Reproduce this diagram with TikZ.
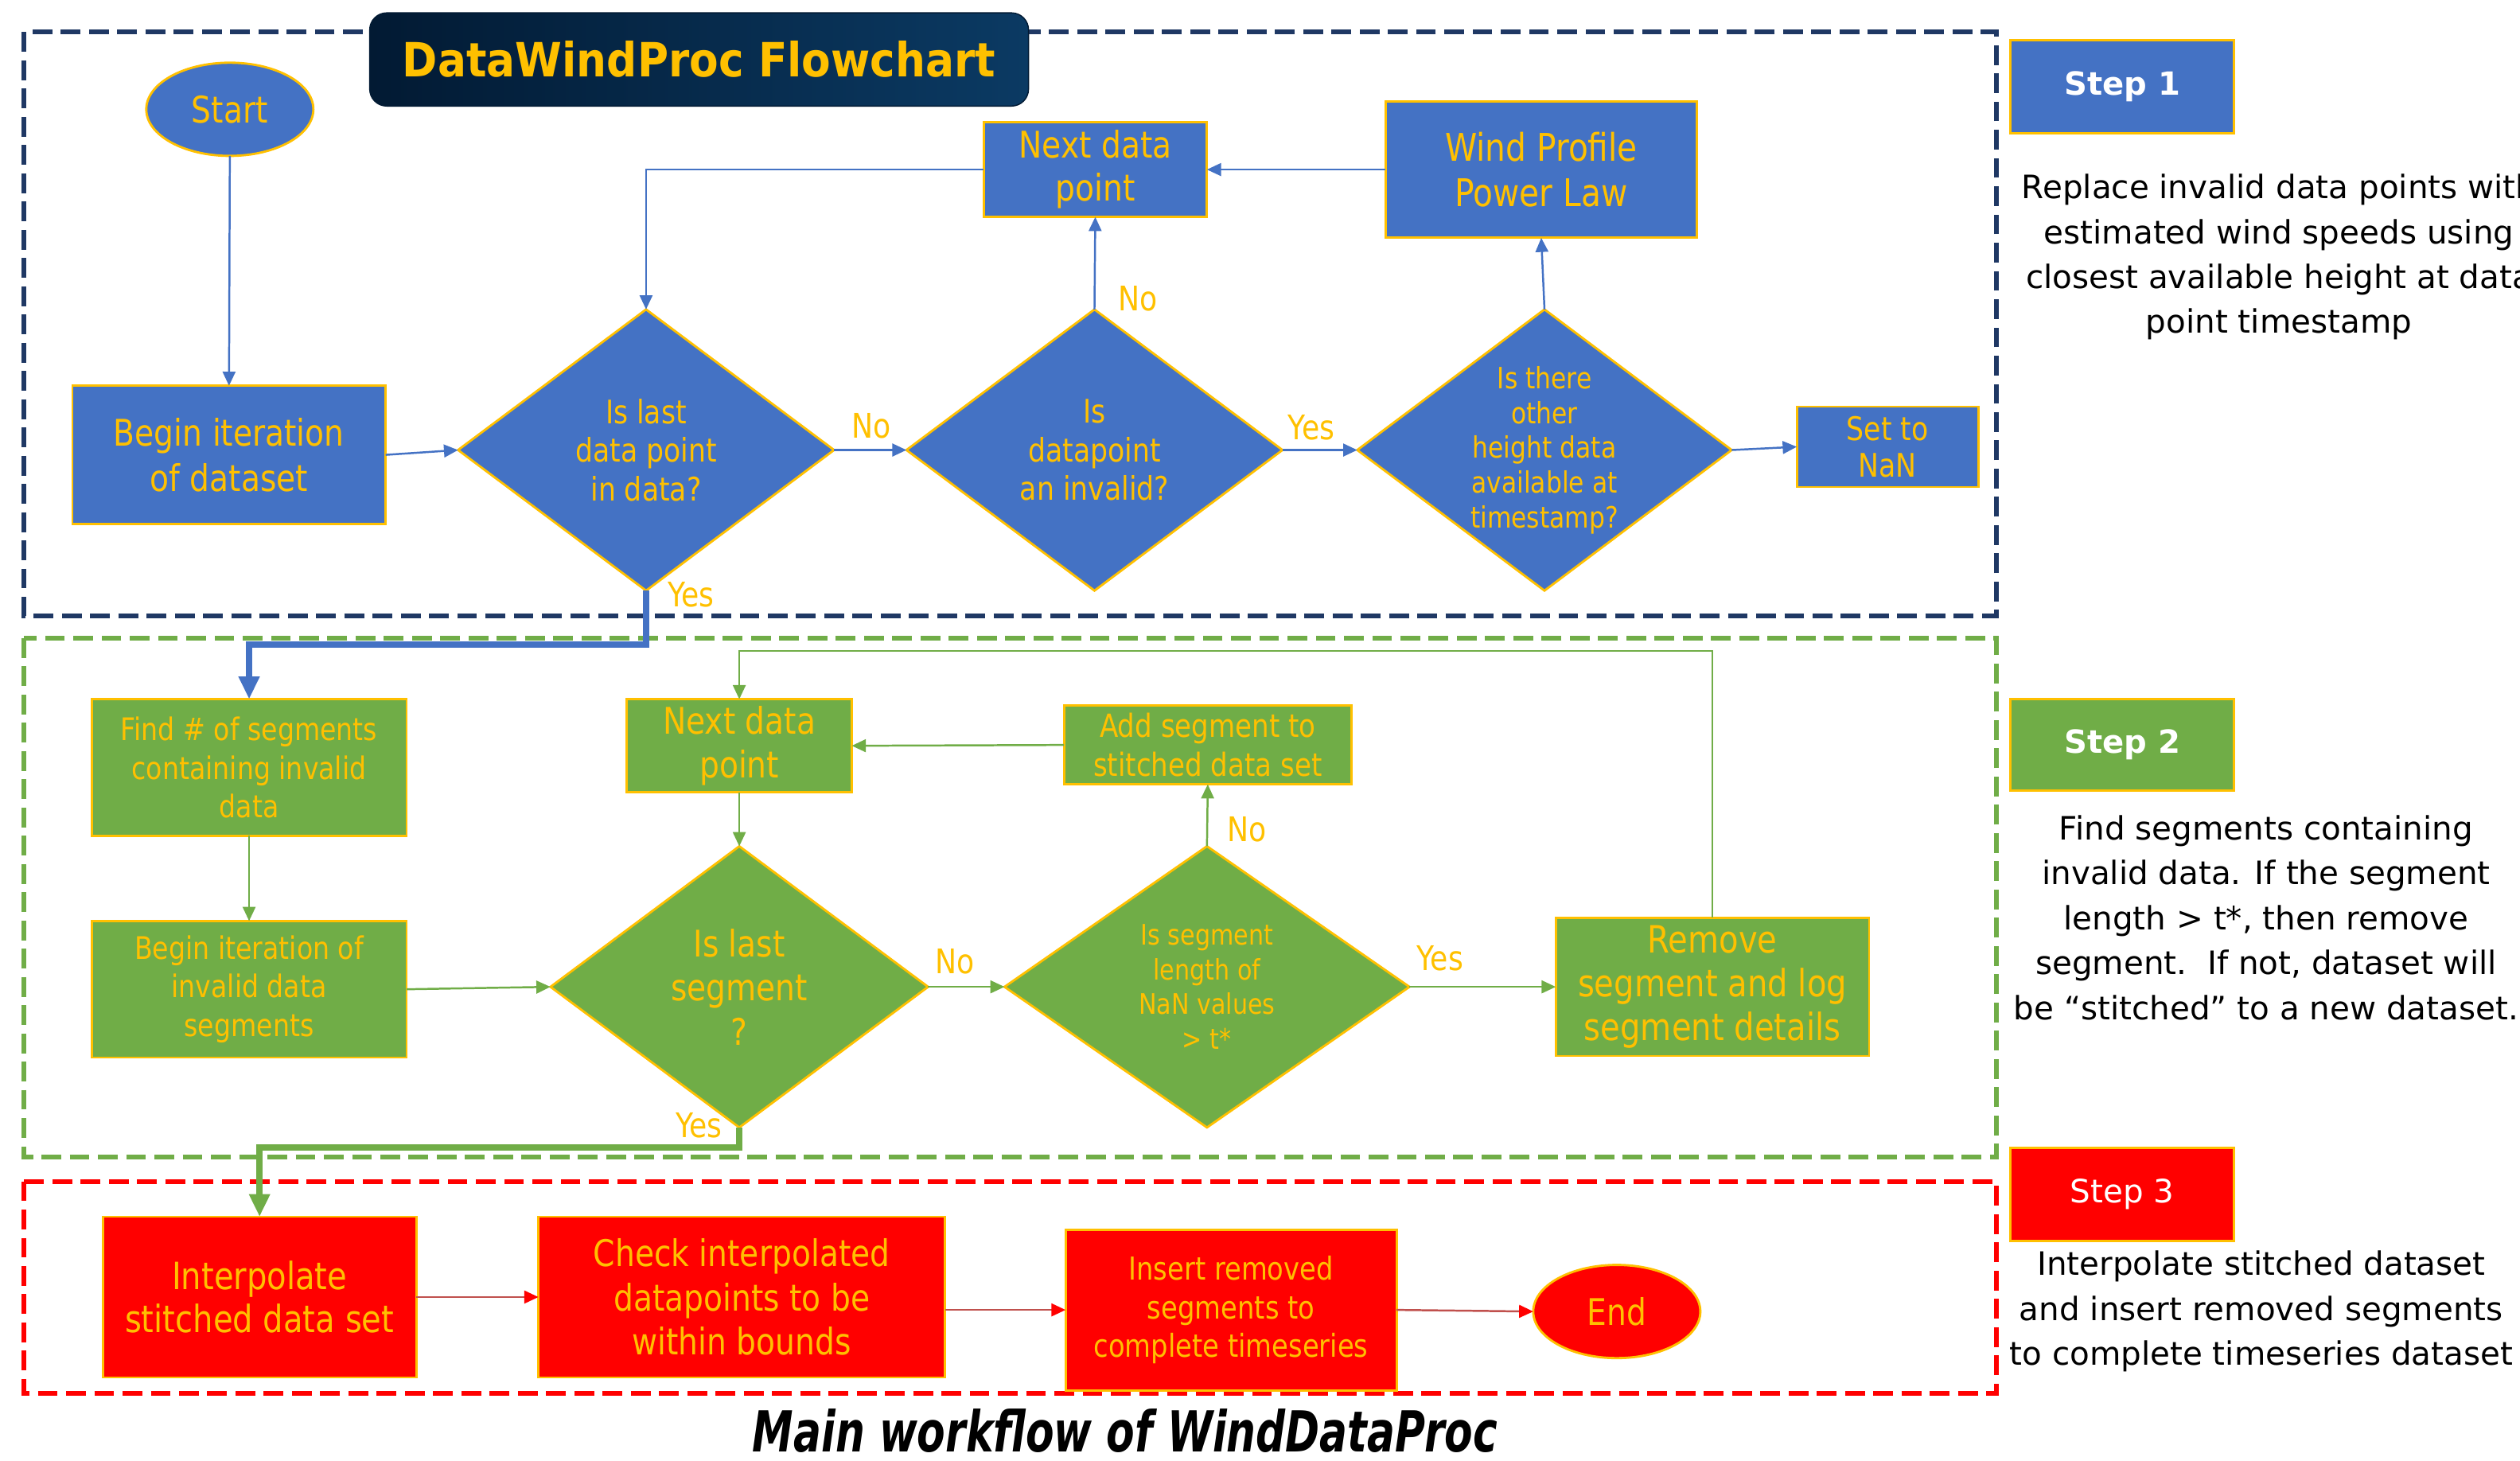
\documentclass[tikz,border=0pt]{standalone}
\usepackage{fontspec}
\setmainfont{DejaVu Sans}
\newfontfamily\cf[FakeStretch=0.85]{DejaVu Sans}
\newfontfamily\capfont[FakeStretch=0.73]{DejaVu Sans}
\newfontfamily\titfont[FakeStretch=0.9]{DejaVu Sans}
\usetikzlibrary{arrows.meta,shapes.geometric,calc}
\definecolor{bfill}{HTML}{4472C4}
\definecolor{gfill}{HTML}{70AD47}
\definecolor{yel}{HTML}{FFC000}
\definecolor{navy}{HTML}{1F3864}
\definecolor{rline}{HTML}{C0504D}
\definecolor{tleft}{HTML}{021A33}
\definecolor{tright}{HTML}{0B3A63}
\begin{document}
\begin{tikzpicture}[x=0.02cm,y=-0.02cm,
  base/.style={draw=yel, line width=0.8pt, text=yel, align=center, inner sep=1pt, outer sep=0pt},
  fs/.style n args={2}{font=\cf\fontsize{#1}{#2}\selectfont},
  rbox/.style={base, rectangle},
  dia/.style={base, diamond, inner sep=0pt},
  ell/.style={base, ellipse},
  lab/.style={text=yel, inner sep=0pt, font=\cf\fontsize{12}{14}\selectfont},
  desc/.style={align=center, inner sep=0pt, text=black, font=\rmfamily\fontsize{11.4}{15.9}\selectfont},
  dbox/.style={line width=1.7pt, dash pattern=on 7pt off 3pt},
  bl/.style={draw=bfill, line width=0.7pt, -{Triangle[length=5pt,width=4.5pt]}},
  gl/.style={draw=gfill, line width=0.7pt, -{Triangle[length=5pt,width=4.5pt]}},
  rl/.style={draw=rline, line width=0.7pt, -{Triangle[length=5pt,width=4.5pt,color=red]}},
  thickb/.style={draw=bfill, line width=2.2pt, -{Triangle[length=8pt,width=7pt]}},
  thickg/.style={draw=gfill, line width=2.2pt, -{Triangle[length=8pt,width=7pt]}}
]
\useasboundingbox (0,0) rectangle (1568,909);
\clip (0,0) rectangle (1568,909);

% dashed step frames
\draw[dbox, draw=navy] (15,20) rectangle (1242,383);
\draw[dbox, draw=gfill] (15,397) rectangle (1242,720);
\draw[dbox, draw=red] (15,735) rectangle (1242,867);

% title
\node[rounded corners=6pt, left color=tleft, right color=tright, draw=tleft,
      minimum width=8.2cm, minimum height=1.16cm, text=yel,
      font=\titfont\bfseries\fontsize{16.7}{20}\selectfont] (title) at (435,37) {DataWindProc Flowchart};

% ---------- Step 1 (blue) ----------
\node[ell, fs={13}{16}, fill=bfill, minimum width=2.08cm, minimum height=1.16cm] (start) at (143,68) {Start};
\node[rbox, fs={13}{16}, fill=bfill, minimum width=3.9cm, minimum height=1.72cm] (begin) at (142.5,283) {Begin iteration\\of dataset};
\node[dia, fs={11.5}{13.6}, fill=bfill, aspect=1.33, minimum width=4.68cm, minimum height=3.5cm] (d1) at (402,280) {Is last\\data point\\in data?};
\node[dia, fs={11.5}{13.6}, fill=bfill, aspect=1.33, minimum width=4.68cm, minimum height=3.5cm] (d2) at (681,280) {Is\\datapoint\\an invalid?};
\node[dia, fs={10.4}{12.3}, fill=bfill, aspect=1.33, minimum width=4.66cm, minimum height=3.5cm] (d3) at (961,280) {Is there\\other\\height data\\available at\\timestamp?};
\node[rbox, fs={13}{15.3}, fill=bfill, minimum width=2.78cm, minimum height=1.18cm] (next1) at (681.5,105.5) {Next data\\point};
\node[rbox, fs={13.5}{15.9}, fill=bfill, minimum width=3.88cm, minimum height=1.7cm] (wind) at (959,105.5) {Wind Profile\\Power Law};
\node[rbox, fs={11.5}{13}, fill=bfill, minimum width=2.26cm, minimum height=1.0cm] (nan) at (1174.5,278) {Set to\\NaN};

% ---------- Step 2 (green) ----------
\node[rbox, fs={11}{13.6}, fill=gfill, minimum width=3.92cm, minimum height=1.7cm] (find) at (155,477.5) {Find \# of segments\\containing invalid\\data};
\node[rbox, fs={11}{13.6}, fill=gfill, minimum width=3.92cm, minimum height=1.7cm] (bseg) at (155,615.5) {Begin iteration of\\invalid data\\segments};
\node[rbox, fs={13}{15.6}, fill=gfill, minimum width=2.8cm, minimum height=1.16cm] (next2) at (460,464) {Next data\\point};
\node[rbox, fs={11.3}{13.6}, fill=gfill, minimum width=3.58cm, minimum height=0.98cm] (add) at (751.5,463.5) {Add segment to\\stitched data set};
\node[dia, fs={13}{15.6}, fill=gfill, aspect=1.34, minimum width=4.7cm, minimum height=3.5cm] (d4) at (460,614) {Is last\\segment\\?};
\node[dia, fs={10}{12.3}, fill=gfill, aspect=1.44, minimum width=5.04cm, minimum height=3.5cm] (d5) at (751,614) {Is segment\\length of\\NaN values\\> t*};
\node[rbox, fs={13.3}{15.6}, fill=gfill, minimum width=3.9cm, minimum height=1.72cm] (remove) at (1065.5,614) {Remove\\segment and log\\segment details};

% ---------- Step 3 (red) ----------
\node[rbox, fs={13.3}{15.3}, fill=red, minimum width=3.9cm, minimum height=2.0cm] (interp) at (161.5,807) {Interpolate\\stitched data set};
\node[rbox, fs={13}{15.6}, fill=red, minimum width=5.06cm, minimum height=2.0cm] (check) at (461.5,807) {Check interpolated\\datapoints to be\\within bounds};
\node[rbox, fs={11.2}{13.6}, fill=red, minimum width=4.12cm, minimum height=2.0cm] (insert) at (766,815) {Insert removed\\segments to\\complete timeseries};
\node[ell, fs={13}{16}, fill=red, minimum width=2.08cm, minimum height=1.16cm] (end) at (1006,816) {End};

% ---------- step labels and descriptions ----------
\node[rbox, fill=bfill, text=white, font=\rmfamily\bfseries\fontsize{11.3}{14}\selectfont, minimum width=2.78cm, minimum height=1.16cm] (s1) at (1320.5,54) {Step 1};
\node[rbox, fill=gfill, text=white, font=\rmfamily\bfseries\fontsize{11.3}{14}\selectfont, minimum width=2.78cm, minimum height=1.14cm] (s2) at (1320.5,463.5) {Step 2};
\node[rbox, fill=red, text=white, font=\rmfamily\fontsize{11.4}{14}\selectfont, minimum width=2.78cm, minimum height=1.16cm] (s3) at (1320.5,743) {Step 3};
\node[desc] (t1) at (1418,160) {Replace invalid data points with\\estimated wind speeds using\\closest available height at data\\point timestamp};
\node[desc] (t2) at (1410,571) {Find segments containing\\invalid data. If the segment\\length > t*, then remove\\segment.\ \ If not, dataset will\\be “stitched” to a new dataset.};
\node[desc] (t3) at (1407,816) {Interpolate stitched dataset\\and insert removed segments\\to complete timeseries dataset};

% caption
\node[inner sep=0pt, font=\capfont\bfseries\itshape\fontsize{20}{24}\selectfont] (cap) at (700,890) {Main workflow of WindDataProc};

% ---------- connectors ----------
\coordinate (yb) at (0,401);
\coordinate (yg) at (0,405);
\coordinate (yr) at (0,714);

\draw[bl] (start.south) -- (begin.north);
\draw[bl] (begin.east) -- (d1.west);
\draw[bl] (d1.east) -- (d2.west);
\draw[bl] (d2.east) -- (d3.west);
\draw[bl] (d3.east) -- (nan.west);
\draw[bl] (d2.north) -- (next1.south);
\draw[bl] (d3.north) -- (wind.south);
\draw[bl] (wind.west) -- (next1.east);
\draw[bl] (next1.west) -| (d1.north);
\draw[thickb] (d1.south) |- (yb -| find.north) -- (find.north);

\draw[gl] (find.south) -- (bseg.north);
\draw[gl] (bseg.east) -- (d4.west);
\draw[gl] (next2.south) -- (d4.north);
\draw[gl] (d4.east) -- (d5.west);
\draw[gl] (d5.east) -- (remove.west);
\draw[gl] (d5.north) -- (add.south);
\draw[gl] (add.west) -- (next2.east);
\draw[gl] (remove.north) -- (remove.north |- yg) -| (next2.north);
\draw[thickg] (d4.south) |- (yr -| interp.north) -- (interp.north);

\draw[rl] (interp.east) -- (check.west);
\draw[rl] (check.east |- insert.west) -- (insert.west);
\draw[rl] (insert.east) -- (end.west);

% branch labels
\node[lab] (l1) at (542,265) {No};
\node[lab] (l2) at (816,266) {Yes};
\node[lab] (l3) at (708,186) {No};
\node[lab] (l4) at (430,370) {Yes};
\node[lab] (l5) at (594,598) {No};
\node[lab] (l6) at (896,596) {Yes};
\node[lab] (l7) at (776,516) {No};
\node[lab] (l8) at (435,700) {Yes};
\end{tikzpicture}
\end{document}
